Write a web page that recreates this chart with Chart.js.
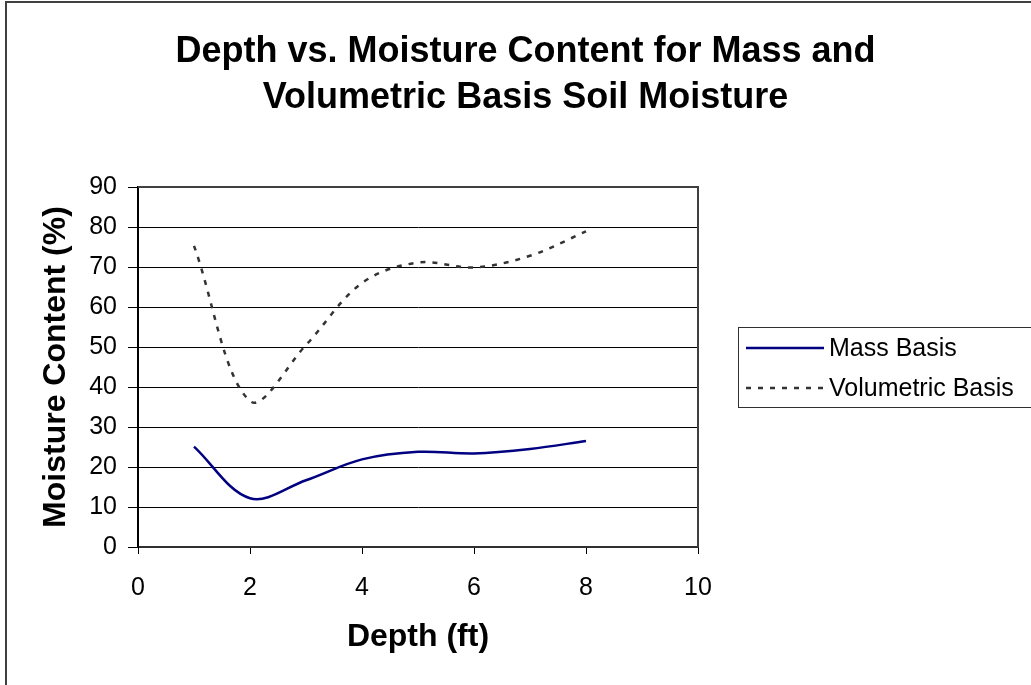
<!DOCTYPE html>
<html>
<head>
<meta charset="utf-8">
<script src="https://cdn.jsdelivr.net/npm/chart.js@4.4.1/dist/chart.umd.min.js"></script>
<style>
  html, body { margin: 0; padding: 0; background: #ffffff; }
  #wrap { width: 1031px; height: 685px; position: relative; }
</style>
</head>
<body>
<div id="wrap"><canvas id="c" width="1031" height="685"></canvas></div>
<script>
const chartTitle = ["Depth vs. Moisture Content for Mass and", "Volumetric Basis Soil Moisture"];
const xAxisTitle = "Depth (ft)";
const yAxisTitle = "Moisture Content (%)";
const depthFt = [1, 2, 3, 4, 5, 6, 7, 8];
const massBasis = [25.1, 12.2, 16.7, 21.9, 23.8, 23.4, 24.5, 26.5];
const volumetricBasis = [75.3, 36.5, 50.5, 66.0, 71.1, 69.9, 72.8, 78.9];
const seriesNames = ["Mass Basis", "Volumetric Basis"];
const xTicks = [0, 2, 4, 6, 8, 10];
const yTicks = [0, 10, 20, 30, 40, 50, 60, 70, 80, 90];

const FONT = "'Liberation Sans', Arial, sans-serif";

function pts(xs, ys) { return xs.map((x, i) => ({ x: x, y: ys[i] })); }

const decor = {
  id: 'decor',
  afterDraw(chart) {
    const ctx = chart.ctx;
    const a = chart.chartArea;
    ctx.save();
    // outer chart border
    ctx.strokeStyle = '#404040';
    ctx.lineWidth = 2;
    ctx.strokeRect(6, 2, 1100, 800);
    // plot area top/right border
    ctx.strokeStyle = '#404040';
    ctx.lineWidth = 2;
    ctx.beginPath();
    ctx.moveTo(a.left, a.top);
    ctx.lineTo(a.right, a.top);
    ctx.lineTo(a.right, a.bottom);
    ctx.stroke();
    // legend
    const lx = 738, ly = 327, lw = 320, lh = 80;
    ctx.fillStyle = '#ffffff';
    ctx.fillRect(lx, ly, lw, lh);
    ctx.strokeStyle = '#303030';
    ctx.lineWidth = 1;
    ctx.strokeRect(lx + 0.5, ly + 0.5, lw, lh);
    const rows = [348, 388];
    chart.data.datasets.forEach((ds, i) => {
      const y = rows[i];
      ctx.strokeStyle = ds.borderColor;
      ctx.lineWidth = ds.borderWidth;
      ctx.setLineDash(ds.borderDash || []);
      ctx.beginPath();
      ctx.moveTo(746, y);
      ctx.lineTo(824, y);
      ctx.stroke();
      ctx.setLineDash([]);
      ctx.fillStyle = '#000000';
      ctx.font = '25px ' + FONT;
      ctx.textBaseline = 'middle';
      ctx.textAlign = 'left';
      ctx.fillText(ds.label, 829, y + 1);
    });
    ctx.restore();
  }
};

new Chart(document.getElementById('c'), {
  type: 'line',
  data: {
    datasets: [
      {
        label: seriesNames[0],
        data: pts(depthFt, massBasis),
        borderColor: '#000080',
        borderWidth: 2.5,
        pointRadius: 0,
        tension: 0.35,
        fill: false
      },
      {
        label: seriesNames[1],
        data: pts(depthFt, volumetricBasis),
        borderColor: '#333333',
        borderWidth: 2.5,
        borderDash: [5, 7],
        pointRadius: 0,
        tension: 0.35,
        fill: false
      }
    ]
  },
  options: {
    responsive: false,
    animation: false,
    layout: { padding: { left: 20, right: 0, top: 0, bottom: 0 } },
    plugins: {
      legend: { display: false },
      tooltip: { enabled: false },
      title: {
        display: true,
        text: chartTitle,
        color: '#000000',
        font: { family: FONT, size: 36, weight: 'bold', lineHeight: 46 / 36 },
        padding: { top: 29, bottom: 66 }
      }
    },
    scales: {
      x: {
        type: 'linear',
        position: 'bottom',
        min: 0, max: 10,
        afterBuildTicks: s => { s.ticks = xTicks.map(v => ({ value: v })); },
        ticks: { color: '#000000', font: { family: FONT, size: 25 }, padding: 19, maxRotation: 0 },
        grid: { drawOnChartArea: false, drawTicks: true, tickLength: 7, color: '#000000', lineWidth: 1 },
        border: { display: true, color: '#303030', width: 2 },
        title: { display: true, text: xAxisTitle, color: '#000000', font: { family: FONT, size: 32, weight: 'bold' }, padding: { top: 0, bottom: 29 } },
        afterFit: s => { s.height = 138; }
      },
      y: {
        type: 'linear',
        position: 'left',
        min: 0, max: 90,
        afterBuildTicks: s => { s.ticks = yTicks.map(v => ({ value: v })); },
        ticks: { color: '#000000', font: { family: FONT, size: 25 }, padding: 11 },
        grid: { drawOnChartArea: true, drawTicks: true, tickLength: 10, color: '#000000', lineWidth: 1 },
        border: { display: true, color: '#000000', width: 2 },
        title: { display: true, text: yAxisTitle, color: '#000000', font: { family: FONT, size: 32, weight: 'bold' }, padding: { top: 17, bottom: 0 } },
        afterFit: s => { s.width = 118; }
      },
      yRight: {
        type: 'linear',
        position: 'right',
        display: true,
        ticks: { display: false },
        grid: { display: false, drawTicks: false },
        border: { display: false },
        afterFit: s => { s.width = 333; }
      }
    }
  },
  plugins: [decor]
});
</script>
</body>
</html>
